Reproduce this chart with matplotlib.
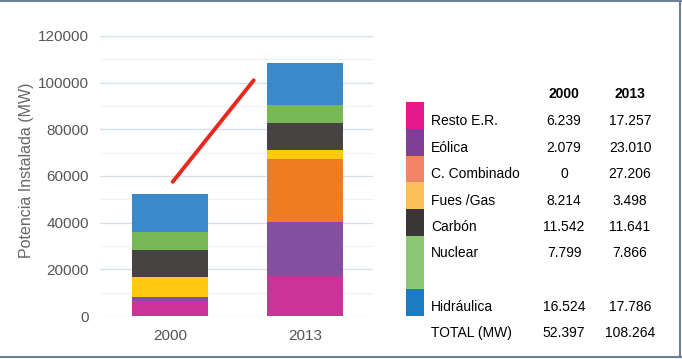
import numpy as np
import matplotlib.pyplot as plt
from matplotlib.patches import Rectangle
from matplotlib.lines import Line2D

plt.rcParams['font.family'] = ['Liberation Sans', 'DejaVu Sans']

anios = ["2000", "2013"]
categorias = ["Resto E.R.", "Eólica", "C. Combinado", "Fues /Gas", "Carbón", "Nuclear", "Hidráulica"]
mw_2000 = [6239, 2079, 0, 8214, 11542, 7799, 16524]
mw_2013 = [17257, 23010, 27206, 3498, 11641, 7866, 17786]

# barras y leyenda usan tonos algo distintos en el original
col_barras = ["#cc3399", "#83509f", "#f07c22", "#ffc90f", "#474343", "#79b955", "#3a89c9"]
col_leyenda = ["#e5198a", "#7f3f98", "#f48466", "#fdc058", "#3a3637", "#8cc874", "#1c7cc0"]

# linea roja de tendencia
trend_x = [0.02, 0.62]
trend_y = [57500, 101000]

W, H = 682, 359
fig = plt.figure(figsize=(W / 100, H / 100), dpi=100)


def fx(px):
    return px / W


def fy(py):
    return 1 - py / H


ax = fig.add_axes([fx(100), fy(316), fx(373) - fx(100), fy(24.3) - fy(316)])

x = np.arange(len(anios))
datos = np.array([mw_2000, mw_2013]).T
base = np.zeros(len(anios))
for vals, c in zip(datos, col_barras):
    ax.bar(x, vals, bottom=base, width=0.57, color=c, zorder=3)
    base += vals

ax.plot(trend_x, trend_y, color="#e8281f", lw=2.8, solid_capstyle="round", zorder=4)

ax.set_xlim(-0.519, 1.504)
ax.set_ylim(0, 125000)
ax.set_yticks(np.arange(0, 120001, 20000))
ax.set_yticks(np.arange(10000, 120000, 20000), minor=True)
ax.set_xticks(x)
ax.set_xticklabels(anios)
ax.grid(axis="y", which="major", color="#d8e1ea", lw=1.0, zorder=0)
ax.grid(axis="y", which="minor", color="#eef2f6", lw=0.8, zorder=0)
ax.tick_params(axis="both", which="both", length=0, labelsize=11, colors="#555555")
ax.tick_params(axis="y", pad=8)
ax.tick_params(axis="x", pad=9)
for s in ax.spines.values():
    s.set_visible(False)
ax.set_ylabel("Potencia Instalada (MW)", fontsize=11.5, color="#666666", labelpad=3,
              family=["Liberation Sans Narrow", "Liberation Sans", "DejaVu Sans"])

# tabla / leyenda a la derecha
limites = [102, 129, 156, 182, 209, 236, 289, 316]
for i, c in enumerate(col_leyenda):
    fig.patches.append(Rectangle((fx(406), fy(limites[i + 1])), fx(424) - fx(406),
                                 fy(limites[i]) - fy(limites[i + 1]),
                                 transform=fig.transFigure, color=c, lw=0))


def fmt(v):
    return "0" if v == 0 else f"{v / 1000:.3f}"


filas_y = [121, 148, 174, 201, 227, 253, 307]
col1, col2 = 564, 630
fig.text(fx(col1), fy(94), anios[0], ha="center", va="center", fontsize=10, fontweight="bold")
fig.text(fx(col2), fy(94), anios[1], ha="center", va="center", fontsize=10, fontweight="bold")
for nombre, a, b, yy in zip(categorias, mw_2000, mw_2013, filas_y):
    fig.text(fx(431), fy(yy), nombre, ha="left", va="center", fontsize=10)
    fig.text(fx(col1), fy(yy), fmt(a), ha="center", va="center", fontsize=10)
    fig.text(fx(col2), fy(yy), fmt(b), ha="center", va="center", fontsize=10)
fig.text(fx(431), fy(333), "TOTAL (MW)", ha="left", va="center", fontsize=10)
fig.text(fx(col1), fy(333), fmt(sum(mw_2000)), ha="center", va="center", fontsize=10)
fig.text(fx(col2), fy(333), fmt(sum(mw_2013)), ha="center", va="center", fontsize=10)

# marco exterior (arriba, abajo, derecha)
borde = "#6f8191"
fig.add_artist(Line2D([0, 1], [fy(1), fy(1)], color=borde, lw=1.5, transform=fig.transFigure))
fig.add_artist(Line2D([0, 1], [fy(357), fy(357)], color=borde, lw=1.5, transform=fig.transFigure))
fig.add_artist(Line2D([fx(680), fx(680)], [fy(1), fy(357)], color=borde, lw=1.5, transform=fig.transFigure))

fig.savefig("out.png", dpi=100)
